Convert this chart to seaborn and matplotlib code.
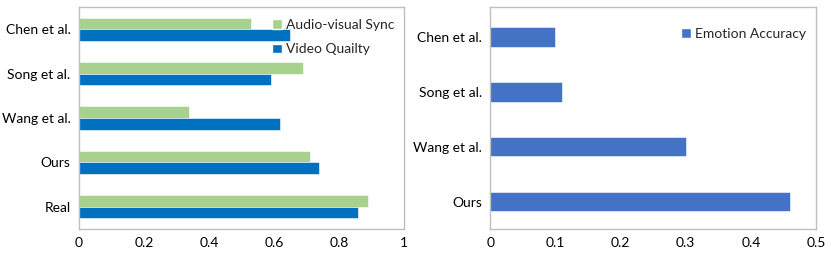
import pandas as pd
import seaborn as sns
import matplotlib
matplotlib.use("Agg")
import matplotlib.pyplot as plt
from matplotlib.patches import Patch

# Data
methods_left = ["Chen et al.", "Song et al.", "Wang et al.", "Ours", "Real"]
av_sync = [0.53, 0.69, 0.34, 0.71, 0.89]
video_quality = [0.65, 0.59, 0.62, 0.74, 0.86]

methods_right = ["Chen et al.", "Song et al.", "Wang et al.", "Ours"]
emotion_acc = [0.10, 0.11, 0.30, 0.46]

green = "#A9D18E"
blue = "#0070C0"
blue2 = "#4472C4"
grid_gray = "#BFBFBF"

sns.set_theme(style="white")
plt.rcParams["font.family"] = ["Lato", "DejaVu Sans"]

df_left = pd.DataFrame({
    "method": methods_left * 2,
    "value": av_sync + video_quality,
    "metric": ["Audio-visual Sync"] * 5 + ["Video Quailty"] * 5,
})
df_right = pd.DataFrame({"method": methods_right, "value": emotion_acc})

fig = plt.figure(figsize=(8.31, 2.56), dpi=100)
ax1 = fig.add_axes([0.095, 0.105, 0.391, 0.868])
ax2 = fig.add_axes([0.590, 0.105, 0.392, 0.868])

sns.barplot(data=df_left, x="value", y="method", hue="metric",
            hue_order=["Audio-visual Sync", "Video Quailty"],
            palette=[green, blue], width=0.52, orient="h", saturation=1,
            edgecolor="white", linewidth=0.4, ax=ax1, legend=False)
sns.barplot(data=df_right, x="value", y="method", color=blue2, saturation=1,
            width=0.35, orient="h", edgecolor="white", linewidth=0.4, ax=ax2)

for ax in (ax1, ax2):
    ax.set_xlabel("")
    ax.set_ylabel("")
    for sp in ax.spines.values():
        sp.set_color(grid_gray)
        sp.set_linewidth(1)
    ax.tick_params(axis="both", length=0, labelsize=10, colors="#000000", pad=6)

ax1.set_xlim(0, 1)
ax1.set_xticks([0, 0.2, 0.4, 0.6, 0.8, 1])
ax1.set_xticklabels(["0", "0.2", "0.4", "0.6", "0.8", "1"])
ax1.set_ylim(4.5, -0.5)
ax2.set_xlim(0, 0.5)
ax2.set_xticks([0, 0.1, 0.2, 0.3, 0.4, 0.5])
ax2.set_xticklabels(["0", "0.1", "0.2", "0.3", "0.4", "0.5"])
ax2.set_ylim(3.5, -0.55)

h1 = [Patch(facecolor=green), Patch(facecolor=blue)]
ax1.legend(h1, ["Audio-visual Sync", "Video Quailty"], loc="upper right",
           bbox_to_anchor=(1.0, 0.99), frameon=False, fontsize=10,
           handlelength=0.7, handleheight=0.7, handletextpad=0.3,
           labelspacing=0.9, borderaxespad=0.3)
ax2.legend([Patch(facecolor=blue2)], ["Emotion Accuracy"], loc="upper right",
           bbox_to_anchor=(1.0, 0.95), frameon=False, fontsize=10,
           handlelength=0.7, handleheight=0.7, handletextpad=0.3,
           borderaxespad=0.3)

fig.savefig("out.png", dpi=100)
